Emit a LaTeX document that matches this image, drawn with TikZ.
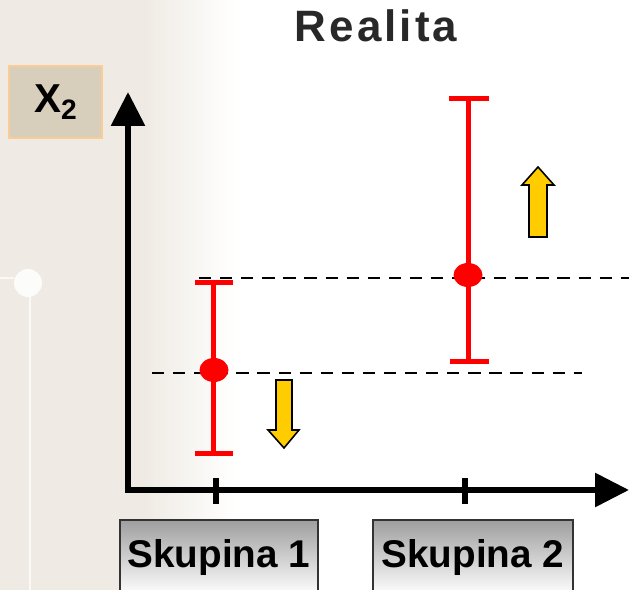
\documentclass[tikz,border=0pt]{standalone}
\usepackage{fontspec}
\setmainfont{Liberation Sans}
\usetikzlibrary{arrows.meta, positioning, shapes.geometric}
\definecolor{bgbeige}{RGB}{239, 235, 228}
\definecolor{titlegray}{RGB}{40, 40, 40}
\definecolor{barred}{RGB}{255, 0, 0}
\definecolor{shiftyellow}{RGB}{255, 204, 0}
\definecolor{linen}{RGB}{216, 206, 188}
\definecolor{linenedge}{RGB}{250, 205, 150}
\newfontfamily\titlefont[LetterSpace=7]{Liberation Sans}
\tikzset{
    axisline/.style={line width=6*0.02cm, -{Triangle[length=0.68cm, width=0.66cm]}},
    tickline/.style={line width=6*0.02cm},
    meanline/.style={black, line width=0.8pt, dash pattern=on 7pt off 5pt},
    errbar/.style={barred, line width=5*0.02cm},
    meandot/.style={ellipse, fill=barred, inner sep=0pt, minimum width=29*0.02cm,
        minimum height=24*0.02cm},
    shiftarrow/.style={draw=black, line width=0.9pt, fill=shiftyellow, line join=miter},
    groupbox/.style={draw=black!80, line width=1pt, top color=black!38, bottom color=white,
        minimum width=3.96cm, minimum height=1.5cm, anchor=north,
        font=\fontsize{22}{24}\selectfont\bfseries},
    varbox/.style={draw=linenedge, line width=1pt, fill=linen, minimum width=1.86cm,
        minimum height=1.44cm, font=\fontsize{23}{24}\selectfont\bfseries},
    faint/.style={white, opacity=0.7},
}
\newcommand{\lowsub}[1]{\raisebox{-0.3ex}{\fontsize{16}{16}\selectfont #1}}
\begin{document}
\begin{tikzpicture}[x=0.02cm, y=-0.02cm]
    \useasboundingbox (0,0) rectangle (629,590);
    % background
    \fill[white] (0,0) rectangle (629,590);
    \fill[bgbeige] (0,0) rectangle (145,590);
    \shade[left color=bgbeige, right color=white] (145,0) rectangle (235,590);
    \draw[faint, line width=1.2pt] (30,295) -- (30,590);
    \draw[faint, line width=1.2pt] (0,278) -- (14,278);
    \fill[faint, opacity=0.85] (28,283) circle (14);

    \node[titlegray, font=\titlefont\fontsize{25}{27}\selectfont\bfseries] (title) at (376,26) {Realita};
    \node[varbox] (xvar) at (55.5,102) {X\lowsub{2}};

    % axes
    \coordinate (ybot) at (128,493);
    \coordinate (ytop) at (128,92);
    \coordinate (xbeg) at (125,490);
    \coordinate (xend) at (629,490);
    \draw[axisline] (ybot) -- (ytop);
    \draw[axisline] (xbeg) -- (xend);
    \draw[tickline] (216,478) -- (216,504);
    \draw[tickline] (465,478) -- (465,504);

    % means
    \coordinate (m1l) at (152,373);
    \coordinate (m1r) at (582,373);
    \coordinate (m2l) at (199,278);
    \coordinate (m2r) at (629,278);
    \draw[meanline] (m1l) -- (m1r);
    \draw[meanline] (m2l) -- (m2r);

    % group 1
    \coordinate (g1top) at (213,283);
    \coordinate (g1bot) at (213,454);
    \draw[errbar] (g1top) -- (g1bot);
    \draw[errbar] (195,283) -- (233,283);
    \draw[errbar] (195,454) -- (233,454);
    \node[meandot] (g1mean) at (214,370) {};

    % group 2
    \coordinate (g2top) at (468,99);
    \coordinate (g2bot) at (468,362);
    \draw[errbar] (g2top) -- (g2bot);
    \draw[errbar] (449,99) -- (489,99);
    \draw[errbar] (450,362) -- (489,362);
    \node[meandot] (g2mean) at (468,275) {};

    % shifts
    \draw[shiftarrow] (538,167) -- (554,185) -- (547,185) -- (547,237) -- (529,237)
        -- (529,185) -- (522,185) -- cycle;
    \draw[shiftarrow] (284,448) -- (299,430) -- (292,430) -- (292,380) -- (276,380)
        -- (276,430) -- (268,430) -- cycle;

    \node[groupbox] (grp1) at (219,519) {Skupina 1};
    \node[groupbox, minimum width=4.0cm] (grp2) at (473,519) {Skupina 2};
\end{tikzpicture}
\end{document}
